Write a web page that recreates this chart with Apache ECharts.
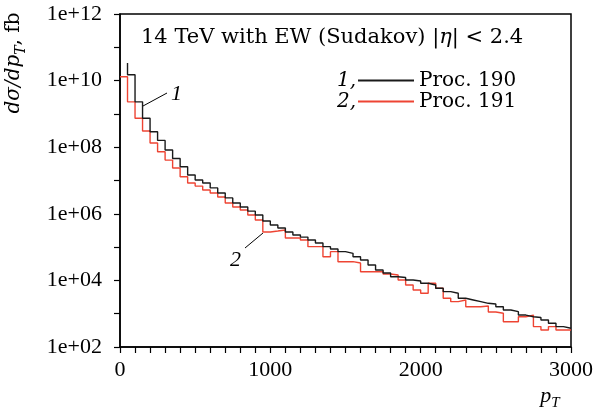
<!DOCTYPE html>
<html>
<head>
<meta charset="utf-8">
<title>dsigma/dpT</title>
<script src="https://cdn.jsdelivr.net/npm/echarts@6/dist/echarts.min.js"></script>
<style>
    html, body { margin: 0; padding: 0; background: #fff; }
    #chart-container { width: 597px; height: 409px; }
</style>
</head>
<body>
<div id="chart-container"></div>
<script>
const binWidth = 50;

// Proc. 190 (black): spike at pT = 50, then bins starting at 50
const proc190Start = 50;
const proc190Spike = 3.4e10;
const proc190 = [1.5e10, 2.3e9, 7.4e8, 2.9e8, 1.6e8, 8.2e7, 4.6e7, 2.6e7, 1.46e7, 1.04e7,
    8.4e6, 6.0e6, 4.2e6, 3.0e6, 2.1e6, 1.6e6, 1.2e6, 9.2e5, 6.1e5, 4.6e5,
    3.75e5, 2.84e5, 2.3e5, 2.0e5, 1.63e5, 1.33e5, 1.03e5, 8.8e4, 7.3e4, 6.5e4,
    5.15e4, 4.1e4, 2.9e4, 2.05e4, 1.67e4, 1.29e4, 1.22e4, 1.03e4, 9.6e3, 8.2e3,
    7.3e3, 5.8e3, 4.6e3, 4.1e3, 2.9e3, 2.58e3, 2.3e3, 2.05e3, 1.95e3, 1.62e3,
    1.29e3, 1.15e3, 9.1e2, 8.1e2, 7.7e2, 6.5e2, 5.15e2, 4.1e2, 3.65e2];

// Proc. 191 (red): bins starting at 0
const proc191Start = 0;
const proc191 = [1.31e10, 2.3e9, 7.4e8, 3.06e8, 1.34e8, 7.3e7, 4.1e7, 2.37e7, 1.3e7, 8.4e6,
    6.8e6, 5.2e6, 4.2e6, 3.2e6, 2.1e6, 1.6e6, 1.3e6, 9.2e5, 6.5e5, 2.84e5,
    3.04e5, 3.27e5, 1.88e5, 1.88e5, 1.63e5, 1.03e5, 1.03e5, 5.15e4, 7.3e4, 3.65e4,
    3.65e4, 3.33e4, 1.82e4, 1.82e4, 1.82e4, 1.56e4, 1.45e4, 1.03e4, 7.3e3, 5.15e3,
    4.1e3, 8.2e3, 5.8e3, 2.9e3, 2.3e3, 2.58e3, 1.62e3, 1.62e3, 1.7e3, 1.12e3,
    1.03e3, 5.75e2, 5.75e2, 8.1e2, 9.1e2, 4.1e2, 3.25e2, 4.1e2, 3.25e2, 3.25e2];

const xLabels = [0, 1000, 2000, 3000];
const yLabelExponents = [2, 4, 6, 8, 10, 12];

const serif = 'Liberation Serif';
const wide = 'DejaVu Serif';

function stepData(start, values, spike) {
    const pts = [];
    if (spike !== undefined) {
        pts.push([start, Math.log10(spike)]);
    }
    values.forEach((v, i) => {
        pts.push([start + i * binWidth, Math.log10(v)]);
    });
    pts.push([start + values.length * binWidth, Math.log10(values[values.length - 1])]);
    return pts;
}

const chartDom = document.getElementById('chart-container');
const myChart = echarts.init(chartDom);

var option;

option = {
    animation: false,
    backgroundColor: '#fff',
    title: {
        text: '14 TeV with EW (Sudakov) |{i|η}| < 2.4',
        left: 141,
        top: 27,
        padding: 0,
        textStyle: {
            fontFamily: wide,
            fontSize: 21,
            fontWeight: 'normal',
            color: '#000',
            rich: {
                i: {fontFamily: wide, fontSize: 21, fontStyle: 'italic', color: '#000'}
            }
        }
    },
    legend: {
        orient: 'vertical',
        left: 358,
        top: 70,
        padding: 0,
        itemWidth: 56,
        itemHeight: 2,
        itemGap: 0,
        icon: 'rect',
        data: ['Proc. 190', 'Proc. 191'],
        textStyle: {fontFamily: wide, fontSize: 20, color: '#000', lineHeight: 21}
    },
    grid: {
        left: 120,
        right: 26,
        top: 14,
        bottom: 62,
        show: true,
        borderColor: '#000',
        borderWidth: 1.5
    },
    xAxis: {
        type: 'value',
        min: 0,
        max: 3000,
        interval: 100,
        axisLine: {show: true, lineStyle: {color: '#000', width: 1.5}},
        axisTick: {show: true, length: 6, lineStyle: {color: '#000', width: 1.2}},
        splitLine: {show: false},
        axisLabel: {
            margin: 12,
            fontFamily: serif,
            fontSize: 22,
            color: '#000',
            formatter: function (v) {
                return xLabels.indexOf(v) >= 0 ? String(v) : '';
            }
        }
    },
    yAxis: {
        type: 'value',
        min: 2,
        max: 12,
        interval: 1,
        axisLine: {show: true, lineStyle: {color: '#000', width: 1.5}},
        axisTick: {show: true, length: 6, lineStyle: {color: '#000', width: 1.2}},
        splitLine: {show: false},
        axisLabel: {
            margin: 18,
            fontFamily: serif,
            fontSize: 22,
            color: '#000',
            formatter: function (v) {
                if (yLabelExponents.indexOf(v) < 0) return '';
                return '1e+' + String(v).padStart(2, '0');
            }
        }
    },
    graphic: [
        {
            type: 'text',
            x: 14,
            y: 63,
            rotation: Math.PI / 2,
            style: {
                text: '{i|dσ/dp}{s|T}{n|, fb}',
                align: 'center',
                verticalAlign: 'middle',
                rich: {
                    i: {fontFamily: wide, fontSize: 20, fontStyle: 'italic', lineHeight: 28, verticalAlign: 'middle'},
                    s: {fontFamily: wide, fontSize: 14, fontStyle: 'italic', lineHeight: 28, verticalAlign: 'bottom'},
                    n: {fontFamily: wide, fontSize: 20, lineHeight: 28, verticalAlign: 'middle'}
                }
            }
        },
        {
            type: 'text',
            x: 550,
            y: 396,
            style: {
                text: '{i|p}{s|T}',
                align: 'center',
                verticalAlign: 'middle',
                rich: {
                    i: {fontFamily: serif, fontSize: 22, fontStyle: 'italic', lineHeight: 30, verticalAlign: 'middle'},
                    s: {fontFamily: serif, fontSize: 15, fontStyle: 'italic', lineHeight: 30, verticalAlign: 'bottom'}
                }
            }
        },
        {
            type: 'text', x: 337, y: 81,
            style: {text: '1,', font: 'italic 20px "DejaVu Serif"', verticalAlign: 'middle', fill: '#000'}
        },
        {
            type: 'text', x: 337, y: 102,
            style: {text: '2,', font: 'italic 20px "DejaVu Serif"', verticalAlign: 'middle', fill: '#000'}
        },
        // annotation for curve 1
        {
            type: 'line',
            shape: {x1: 143, y1: 106, x2: 167, y2: 93},
            style: {stroke: '#000', lineWidth: 1}
        },
        {
            type: 'text', x: 171, y: 94,
            style: {text: '1', font: 'italic 22px "Liberation Serif"', verticalAlign: 'middle', fill: '#000'}
        },
        // annotation for curve 2
        {
            type: 'line',
            shape: {x1: 263, y1: 233, x2: 245, y2: 248},
            style: {stroke: '#000', lineWidth: 1}
        },
        {
            type: 'text', x: 230, y: 260,
            style: {text: '2', font: 'italic 22px "Liberation Serif"', verticalAlign: 'middle', fill: '#000'}
        }
    ],
    series: [
        {
            name: 'Proc. 191',
            type: 'line',
            step: 'end',
            symbol: 'none',
            color: '#ee4433',
            lineStyle: {color: '#ee4433', width: 1.4},
            data: stepData(proc191Start, proc191)
        },
        {
            name: 'Proc. 190',
            type: 'line',
            step: 'end',
            symbol: 'none',
            color: '#1a1a1a',
            lineStyle: {color: '#1a1a1a', width: 1.4},
            data: stepData(proc190Start, proc190, proc190Spike)
        }
    ]
};

option && myChart.setOption(option);
</script>
</body>
</html>
